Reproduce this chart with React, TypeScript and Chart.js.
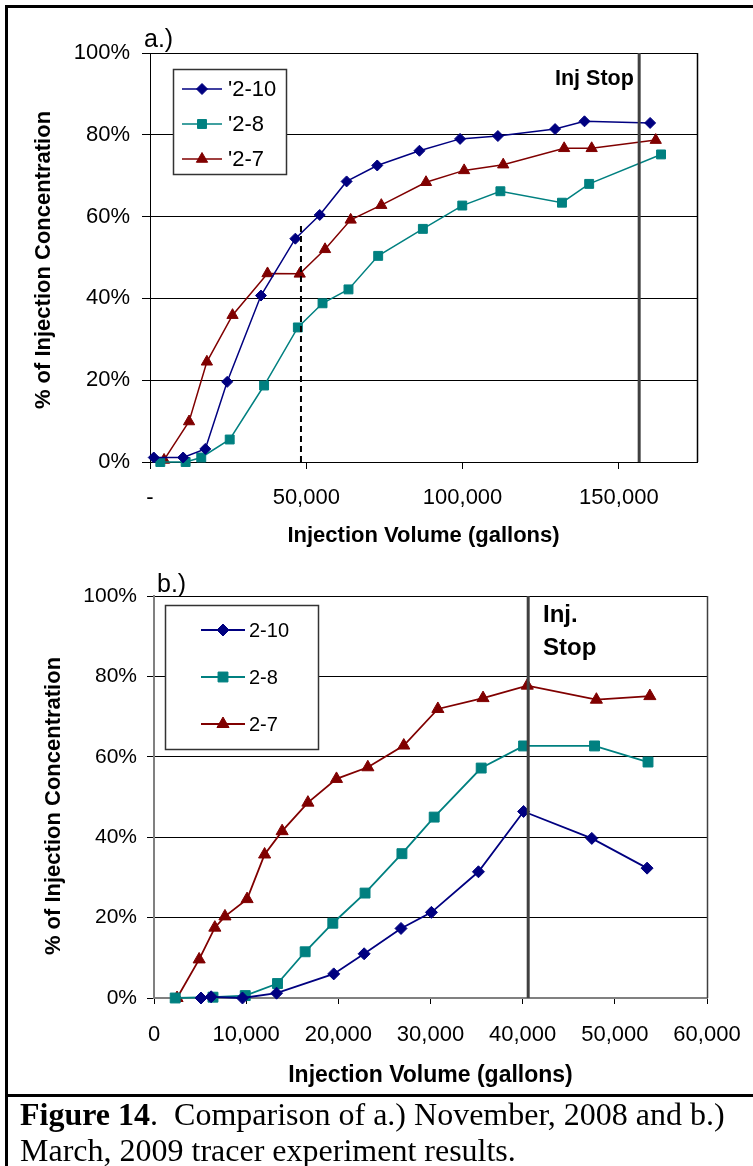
import React, { useEffect, useRef } from 'react';
import { Chart, registerables } from 'chart.js';

Chart.register(...registerables);

const SANS = "'Liberation Sans', Arial, sans-serif";
const SERIF = "'Liberation Serif', 'Times New Roman', serif";
const NAVY = '#000080';
const TEAL = '#008080';
const MAROON = '#800000';
const STOP_GRAY = '#404040';

// ---------- a.) November 2008 ----------
const topLabels = ["'2-10", "'2-8", "'2-7"];
const topX210 = [1200, 10600, 17700, 24700, 35500, 46500, 54300, 62900, 72700, 86200, 99200, 111300, 129600, 139000, 160000];
const topY210 = [1.1, 1.1, 3.2, 19.6, 40.7, 54.6, 60.4, 68.6, 72.5, 76.1, 79.0, 79.7, 81.4, 83.3, 82.9];
const topX28 = [3300, 11400, 16400, 25500, 36500, 47300, 55200, 63500, 73000, 87300, 99900, 112100, 131800, 140500, 163500];
const topY28 = [0, 0, 1.1, 5.5, 18.7, 32.9, 38.8, 42.2, 50.4, 57.0, 62.7, 66.2, 63.4, 68.0, 75.2];
const topX27 = [4500, 12500, 18200, 26400, 37600, 47900, 56000, 64200, 74000, 88300, 100500, 113000, 132500, 141300, 161800];
const topY27 = [0.5, 9.9, 24.5, 35.9, 46.1, 46.0, 52.0, 59.2, 62.8, 68.4, 71.3, 72.7, 76.7, 76.7, 78.7];
const topDashX = [48300, 48300];
const topDashY = [0, 58];
const topStopX = [156500, 156500];
const topStopY = [0, 100];
const topXTicks = [0, 50000, 100000, 150000];
const topXMax = 175000;

// ---------- b.) March 2009 ----------
const botLabels = ['2-10', '2-8', '2-7'];
const botX210 = [5100, 6200, 9600, 13300, 19500, 22800, 26800, 30100, 35200, 40100, 47500, 53500];
const botY210 = [0, 0.3, 0, 1.2, 6.0, 11.0, 17.3, 21.3, 31.4, 46.4, 39.7, 32.3];
const botX28 = [2300, 6400, 9900, 13400, 16400, 19400, 22900, 26900, 30400, 35500, 40100, 47800, 53600];
const botY28 = [0, 0.2, 0.6, 3.6, 11.5, 18.6, 26.1, 35.9, 45.0, 57.2, 62.7, 62.7, 58.7];
const botX27 = [2500, 4900, 6600, 7700, 10100, 12000, 13900, 16700, 19800, 23200, 27100, 30800, 35700, 40500, 48000, 53800];
const botY27 = [0, 9.6, 17.5, 20.3, 24.6, 35.7, 41.5, 48.6, 54.5, 57.4, 62.8, 71.9, 74.6, 77.7, 74.2, 75.1];
const botStopX = [40600, 40600];
const botStopY = [0, 100];
const botXMax = 60000;
const botXStep = 10000;

const yTicksPct = [0, 20, 40, 60, 80, 100];

const pts = (xs: number[], ys: number[]) => xs.map((x, i) => ({ x, y: ys[i] }));

function drawMarker(ctx: CanvasRenderingContext2D, style: string, r: number, x: number, y: number, color: string) {
  ctx.save();
  ctx.fillStyle = color;
  ctx.strokeStyle = color;
  ctx.lineWidth = 1;
  ctx.beginPath();
  if (style === 'rectRot') {
    ctx.moveTo(x - r, y);
    ctx.lineTo(x, y - r);
    ctx.lineTo(x + r, y);
    ctx.lineTo(x, y + r);
  } else if (style === 'rect') {
    const s = Math.SQRT1_2 * r;
    ctx.rect(x - s, y - s, 2 * s, 2 * s);
  } else {
    ctx.moveTo(x, y - r);
    ctx.lineTo(x + r * Math.sin(Math.PI * 2 / 3), y - r * Math.cos(Math.PI * 2 / 3));
    ctx.lineTo(x + r * Math.sin(Math.PI * 4 / 3), y - r * Math.cos(Math.PI * 4 / 3));
  }
  ctx.closePath();
  ctx.fill();
  ctx.stroke();
  ctx.restore();
}

type Overlay = {
  legendBox: [number, number, number, number];
  legendLine: [number, number];
  legendTextX: number;
  legendYs: number[];
  legendFont: number;
  panel: string;
  panelX: number;
  panelY: number;
  stopLines: string[];
  stopX: number;
  stopYs: number[];
  stopFont: number;
  yTitleX: number;
  yTitleY: number;
  rightBorderColor: string;
};

function overlayPlugin(o: Overlay) {
  return {
    id: 'overlay' + o.panel,
    afterDraw(chart: any) {
      const ctx: CanvasRenderingContext2D = chart.ctx;
      const a = chart.chartArea;
      ctx.save();
      // right border of the plot area
      ctx.strokeStyle = o.rightBorderColor;
      ctx.lineWidth = 1.5;
      ctx.beginPath();
      ctx.moveTo(Math.round(a.right) + 0.5, a.top);
      ctx.lineTo(Math.round(a.right) + 0.5, a.bottom);
      ctx.stroke();

      // legend
      const [bx, by, bw, bh] = o.legendBox;
      ctx.fillStyle = '#fff';
      ctx.fillRect(bx, by, bw, bh);
      ctx.strokeStyle = '#333';
      ctx.lineWidth = 1.5;
      ctx.strokeRect(bx + 0.5, by + 0.5, bw, bh);
      const ds = chart.data.datasets.filter((d: any) => d.inLegend);
      ds.forEach((d: any, i: number) => {
        const y = o.legendYs[i];
        ctx.strokeStyle = d.borderColor;
        ctx.lineWidth = d.borderWidth;
        ctx.beginPath();
        ctx.moveTo(o.legendLine[0], y);
        ctx.lineTo(o.legendLine[1], y);
        ctx.stroke();
        drawMarker(ctx, d.pointStyle, d.pointRadius, (o.legendLine[0] + o.legendLine[1]) / 2, y, d.borderColor);
        ctx.fillStyle = '#000';
        ctx.font = `${o.legendFont}px ${SANS}`;
        ctx.textAlign = 'left';
        ctx.textBaseline = 'middle';
        ctx.fillText(d.label, o.legendTextX, y + 1);
      });

      // panel label
      ctx.fillStyle = '#000';
      ctx.font = `25px ${SANS}`;
      ctx.textAlign = 'left';
      ctx.textBaseline = 'alphabetic';
      ctx.fillText(o.panel, o.panelX, o.panelY);

      // injection stop label
      ctx.font = `bold ${o.stopFont}px ${SANS}`;
      o.stopLines.forEach((t, i) => ctx.fillText(t, o.stopX, o.stopYs[i]));

      // y-axis title
      ctx.translate(o.yTitleX, o.yTitleY);
      ctx.rotate(-Math.PI / 2);
      ctx.font = `bold 22px ${SANS}`;
      ctx.textAlign = 'center';
      ctx.textBaseline = 'middle';
      ctx.fillText('% of Injection Concentration', 0, 0);
      ctx.restore();
    },
  };
}

function seriesDs(label: string, data: any[], color: string, style: string, radius: number, width: number) {
  return {
    label,
    data,
    inLegend: true,
    borderColor: color,
    backgroundColor: color,
    pointBackgroundColor: color,
    pointBorderColor: color,
    pointStyle: style,
    pointRadius: radius,
    pointBorderWidth: 1,
    borderWidth: width,
    tension: 0,
    clip: false,
    order: 1,
  };
}

function TopChart() {
  const ref = useRef<HTMLCanvasElement>(null);
  useEffect(() => {
    const chart = new Chart(ref.current!, {
      type: 'line',
      data: {
        datasets: [
          seriesDs(topLabels[0], pts(topX210, topY210), NAVY, 'rectRot', 5.5, 1.5),
          seriesDs(topLabels[1], pts(topX28, topY28), TEAL, 'rect', 6.3, 1.5),
          seriesDs(topLabels[2], pts(topX27, topY27), MAROON, 'triangle', 6.5, 1.5),
          { label: 'dash', data: pts(topDashX, topDashY), borderColor: '#000', borderWidth: 2, borderDash: [6, 4], pointRadius: 0, order: 0 },
          { label: 'stop', data: pts(topStopX, topStopY), borderColor: STOP_GRAY, borderWidth: 3, pointRadius: 0, order: -1 },
        ] as any,
      },
      options: {
        animation: false,
        responsive: false,
        maintainAspectRatio: false,
        events: [],
        layout: { padding: { left: 0, top: 53, right: 56, bottom: 0 } },
        plugins: { legend: { display: false }, tooltip: { enabled: false } },
        scales: {
          x: {
            type: 'linear',
            min: 0,
            max: topXMax,
            afterBuildTicks: (s: any) => { s.ticks = topXTicks.map((v) => ({ value: v })); },
            afterFit: (s: any) => { s.height = 108; },
            ticks: {
              callback: (v: any) => (v === 0 ? '-' : Number(v).toLocaleString('en-US')),
              color: '#000',
              font: { family: SANS, size: 22 },
              padding: 15.5,
              maxRotation: 0,
              autoSkip: false,
            },
            grid: { drawOnChartArea: false, drawTicks: true, tickLength: 7, color: '#000' },
            border: { color: '#000', width: 1 },
            title: {
              display: true,
              text: 'Injection Volume (gallons)',
              color: '#000',
              font: { family: SANS, size: 22, weight: 'bold' },
              padding: { top: 0, bottom: 21.3 },
            },
          },
          y: {
            min: 0,
            max: 100,
            afterBuildTicks: (s: any) => { s.ticks = yTicksPct.map((v) => ({ value: v })); },
            afterFit: (s: any) => { s.width = 150; },
            ticks: {
              callback: (v: any) => v + '%',
              color: '#000',
              font: { family: SANS, size: 22 },
              padding: 12,
            },
            grid: { color: '#000', tickLength: 8, lineWidth: 1 },
            border: { color: '#000', width: 1 },
          },
        },
      } as any,
      plugins: [
        overlayPlugin({
          legendBox: [173, 69, 113, 105],
          legendLine: [182, 222],
          legendTextX: 228,
          legendYs: [89, 124, 159],
          legendFont: 22,
          panel: 'a.)',
          panelX: 144,
          panelY: 47,
          stopLines: ['Inj Stop'],
          stopX: 555,
          stopYs: [85],
          stopFont: 21.5,
          yTitleX: 44,
          yTitleY: 260,
          rightBorderColor: '#000',
        }),
      ],
    });
    return () => chart.destroy();
  }, []);
  return <canvas ref={ref} width={753} height={570} style={{ position: 'absolute', left: 0, top: 0, width: 753, height: 570 }} />;
}

function BottomChart() {
  const ref = useRef<HTMLCanvasElement>(null);
  useEffect(() => {
    const chart = new Chart(ref.current!, {
      type: 'line',
      data: {
        datasets: [
          seriesDs(botLabels[0], pts(botX210, botY210), NAVY, 'rectRot', 6, 1.8),
          seriesDs(botLabels[1], pts(botX28, botY28), TEAL, 'rect', 7, 1.8),
          seriesDs(botLabels[2], pts(botX27, botY27), MAROON, 'triangle', 7, 1.8),
          { label: 'stop', data: pts(botStopX, botStopY), borderColor: STOP_GRAY, borderWidth: 3, pointRadius: 0, order: -1 },
        ] as any,
      },
      options: {
        animation: false,
        responsive: false,
        maintainAspectRatio: false,
        events: [],
        layout: { padding: { left: 0, top: 36, right: 93, bottom: 0 } },
        plugins: { legend: { display: false }, tooltip: { enabled: false } },
        scales: {
          x: {
            type: 'linear',
            min: 0,
            max: botXMax,
            ticks: {
              stepSize: botXStep,
              callback: (v: any) => Number(v).toLocaleString('en-US'),
              color: '#000',
              font: { family: SANS, size: 22 },
              padding: 18,
              maxRotation: 0,
              autoSkip: false,
            },
            afterFit: (s: any) => { s.height = 97; },
            grid: { drawOnChartArea: false, drawTicks: true, tickLength: 6, color: '#000' },
            border: { color: '#808080', width: 2 },
            title: {
              display: true,
              text: 'Injection Volume (gallons)',
              color: '#000',
              font: { family: SANS, size: 23, weight: 'bold' },
              padding: { top: 0, bottom: 5.5 },
            },
          },
          y: {
            min: 0,
            max: 100,
            afterBuildTicks: (s: any) => { s.ticks = yTicksPct.map((v) => ({ value: v })); },
            afterFit: (s: any) => { s.width = 154; },
            ticks: {
              callback: (v: any) => v + '%',
              color: '#000',
              font: { family: SANS, size: 21 },
              padding: 10,
            },
            grid: { color: '#000', tickLength: 7, lineWidth: 1 },
            border: { color: '#808080', width: 2 },
          },
        },
      } as any,
      plugins: [
        overlayPlugin({
          legendBox: [165, 45, 153, 144],
          legendLine: [201, 245],
          legendTextX: 249,
          legendYs: [70, 117, 164],
          legendFont: 20,
          panel: 'b.)',
          panelX: 157,
          panelY: 32,
          stopLines: ['Inj.', 'Stop'],
          stopX: 543,
          stopYs: [62, 95],
          stopFont: 24,
          yTitleX: 54,
          yTitleY: 246,
          rightBorderColor: '#404040',
        }),
      ],
    });
    return () => chart.destroy();
  }, []);
  return <canvas ref={ref} width={800} height={535} style={{ position: 'absolute', left: 0, top: 560, width: 800, height: 535 }} />;
}

export default function App() {
  const line = (s: React.CSSProperties) => <div style={{ position: 'absolute', background: '#000', ...s }} />;
  return (
    <div style={{ position: 'absolute', left: 0, top: 0, width: 753, height: 1166, overflow: 'hidden', background: '#fff' }}>
      {line({ left: 5, top: 5, width: 748, height: 3 })}
      {line({ left: 5, top: 5, width: 3, height: 1161 })}
      {line({ left: 5, top: 1094, width: 748, height: 3 })}
      <TopChart />
      <BottomChart />
      <div
        style={{
          position: 'absolute',
          left: 20,
          top: 1096,
          fontFamily: SERIF,
          fontSize: 32,
          lineHeight: '36px',
          color: '#000',
          whiteSpace: 'nowrap',
        }}
      >
        <b>Figure 14</b>.&nbsp; Comparison of a.) November, 2008 and b.)
        <br />
        March, 2009 tracer experiment results.
      </div>
    </div>
  );
}
